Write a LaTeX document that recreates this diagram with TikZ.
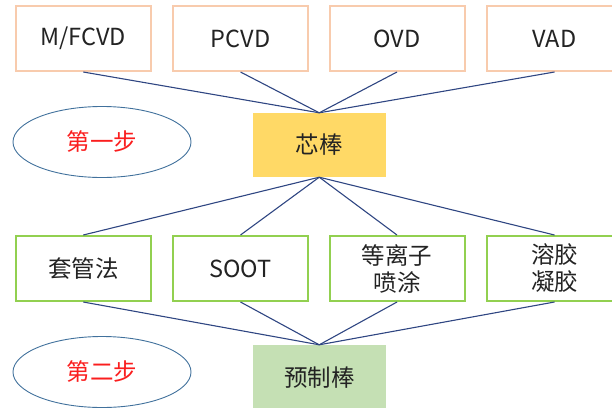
\documentclass[tikz,border=0pt]{standalone}
\usepackage{fontspec}
\setmainfont{Noto Sans CJK SC}
\usetikzlibrary{shapes.geometric}
\definecolor{orangeb}{RGB}{248,203,173}
\definecolor{greenb}{RGB}{146,208,80}
\definecolor{yellowf}{RGB}{255,217,102}
\definecolor{greenf}{RGB}{197,224,180}
\definecolor{linec}{RGB}{47,70,130}
\definecolor{ellc}{RGB}{65,113,156}
\definecolor{txt}{RGB}{35,35,35}
\definecolor{redt}{RGB}{250,30,30}
\tikzset{
  base/.style={rectangle, minimum width=135pt, minimum height=65pt, inner sep=0pt, align=center, font=\fontsize{23.5}{27}\selectfont, text=txt},
  topbox/.style={base, draw=orangeb, line width=2pt, fill=white},
  midbox/.style={base, draw=greenb, line width=2pt, fill=white},
  keybox/.style={base, minimum width=133.5pt, minimum height=64pt},
  stepell/.style={ellipse, draw=ellc, line width=0.9pt, minimum width=178pt, minimum height=71pt, inner sep=0pt, text=redt, font=\fontsize{23.5}{27}\selectfont},
  conn/.style={draw=linec, line width=1.1pt}
}
\begin{document}
\begin{tikzpicture}[x=1pt,y=-1pt]
\useasboundingbox (0,0) rectangle (612,407);
\clip (0,0) rectangle (612,407);
\node[topbox] (t1) at (83.3,38.5) {M/FCVD};
\node[topbox] (t2) at (240.5,38.5) {PCVD};
\node[topbox] (t3) at (397,38.5) {OVD};
\node[topbox] (t4) at (554.5,38.5) {VAD};
\node[keybox, fill=yellowf] (core) at (319.25,145) {芯棒};
\node[stepell] (s1) at (102,142) {第一步};
\node[midbox] (m1) at (83.3,268.5) {套管法};
\node[midbox] (m2) at (240.5,268.5) {SOOT};
\node[midbox] (m3) at (397,268.5) {等离子\\喷涂};
\node[midbox] (m4) at (554.5,268.5) {溶胶\\凝胶};
\node[keybox, fill=greenf, minimum height=65pt] (pre) at (319.25,377.5) {预制棒};
\node[stepell] (s2) at (102,372) {第二步};
\foreach \n in {t1,t2,t3,t4} \draw[conn] (\n.south) -- (core.north);
\foreach \n in {m1,m2,m3,m4} \draw[conn] (core.south) -- (\n.north);
\foreach \n in {m1,m2,m3,m4} \draw[conn] (\n.south) -- (pre.north);
\end{tikzpicture}
\end{document}
